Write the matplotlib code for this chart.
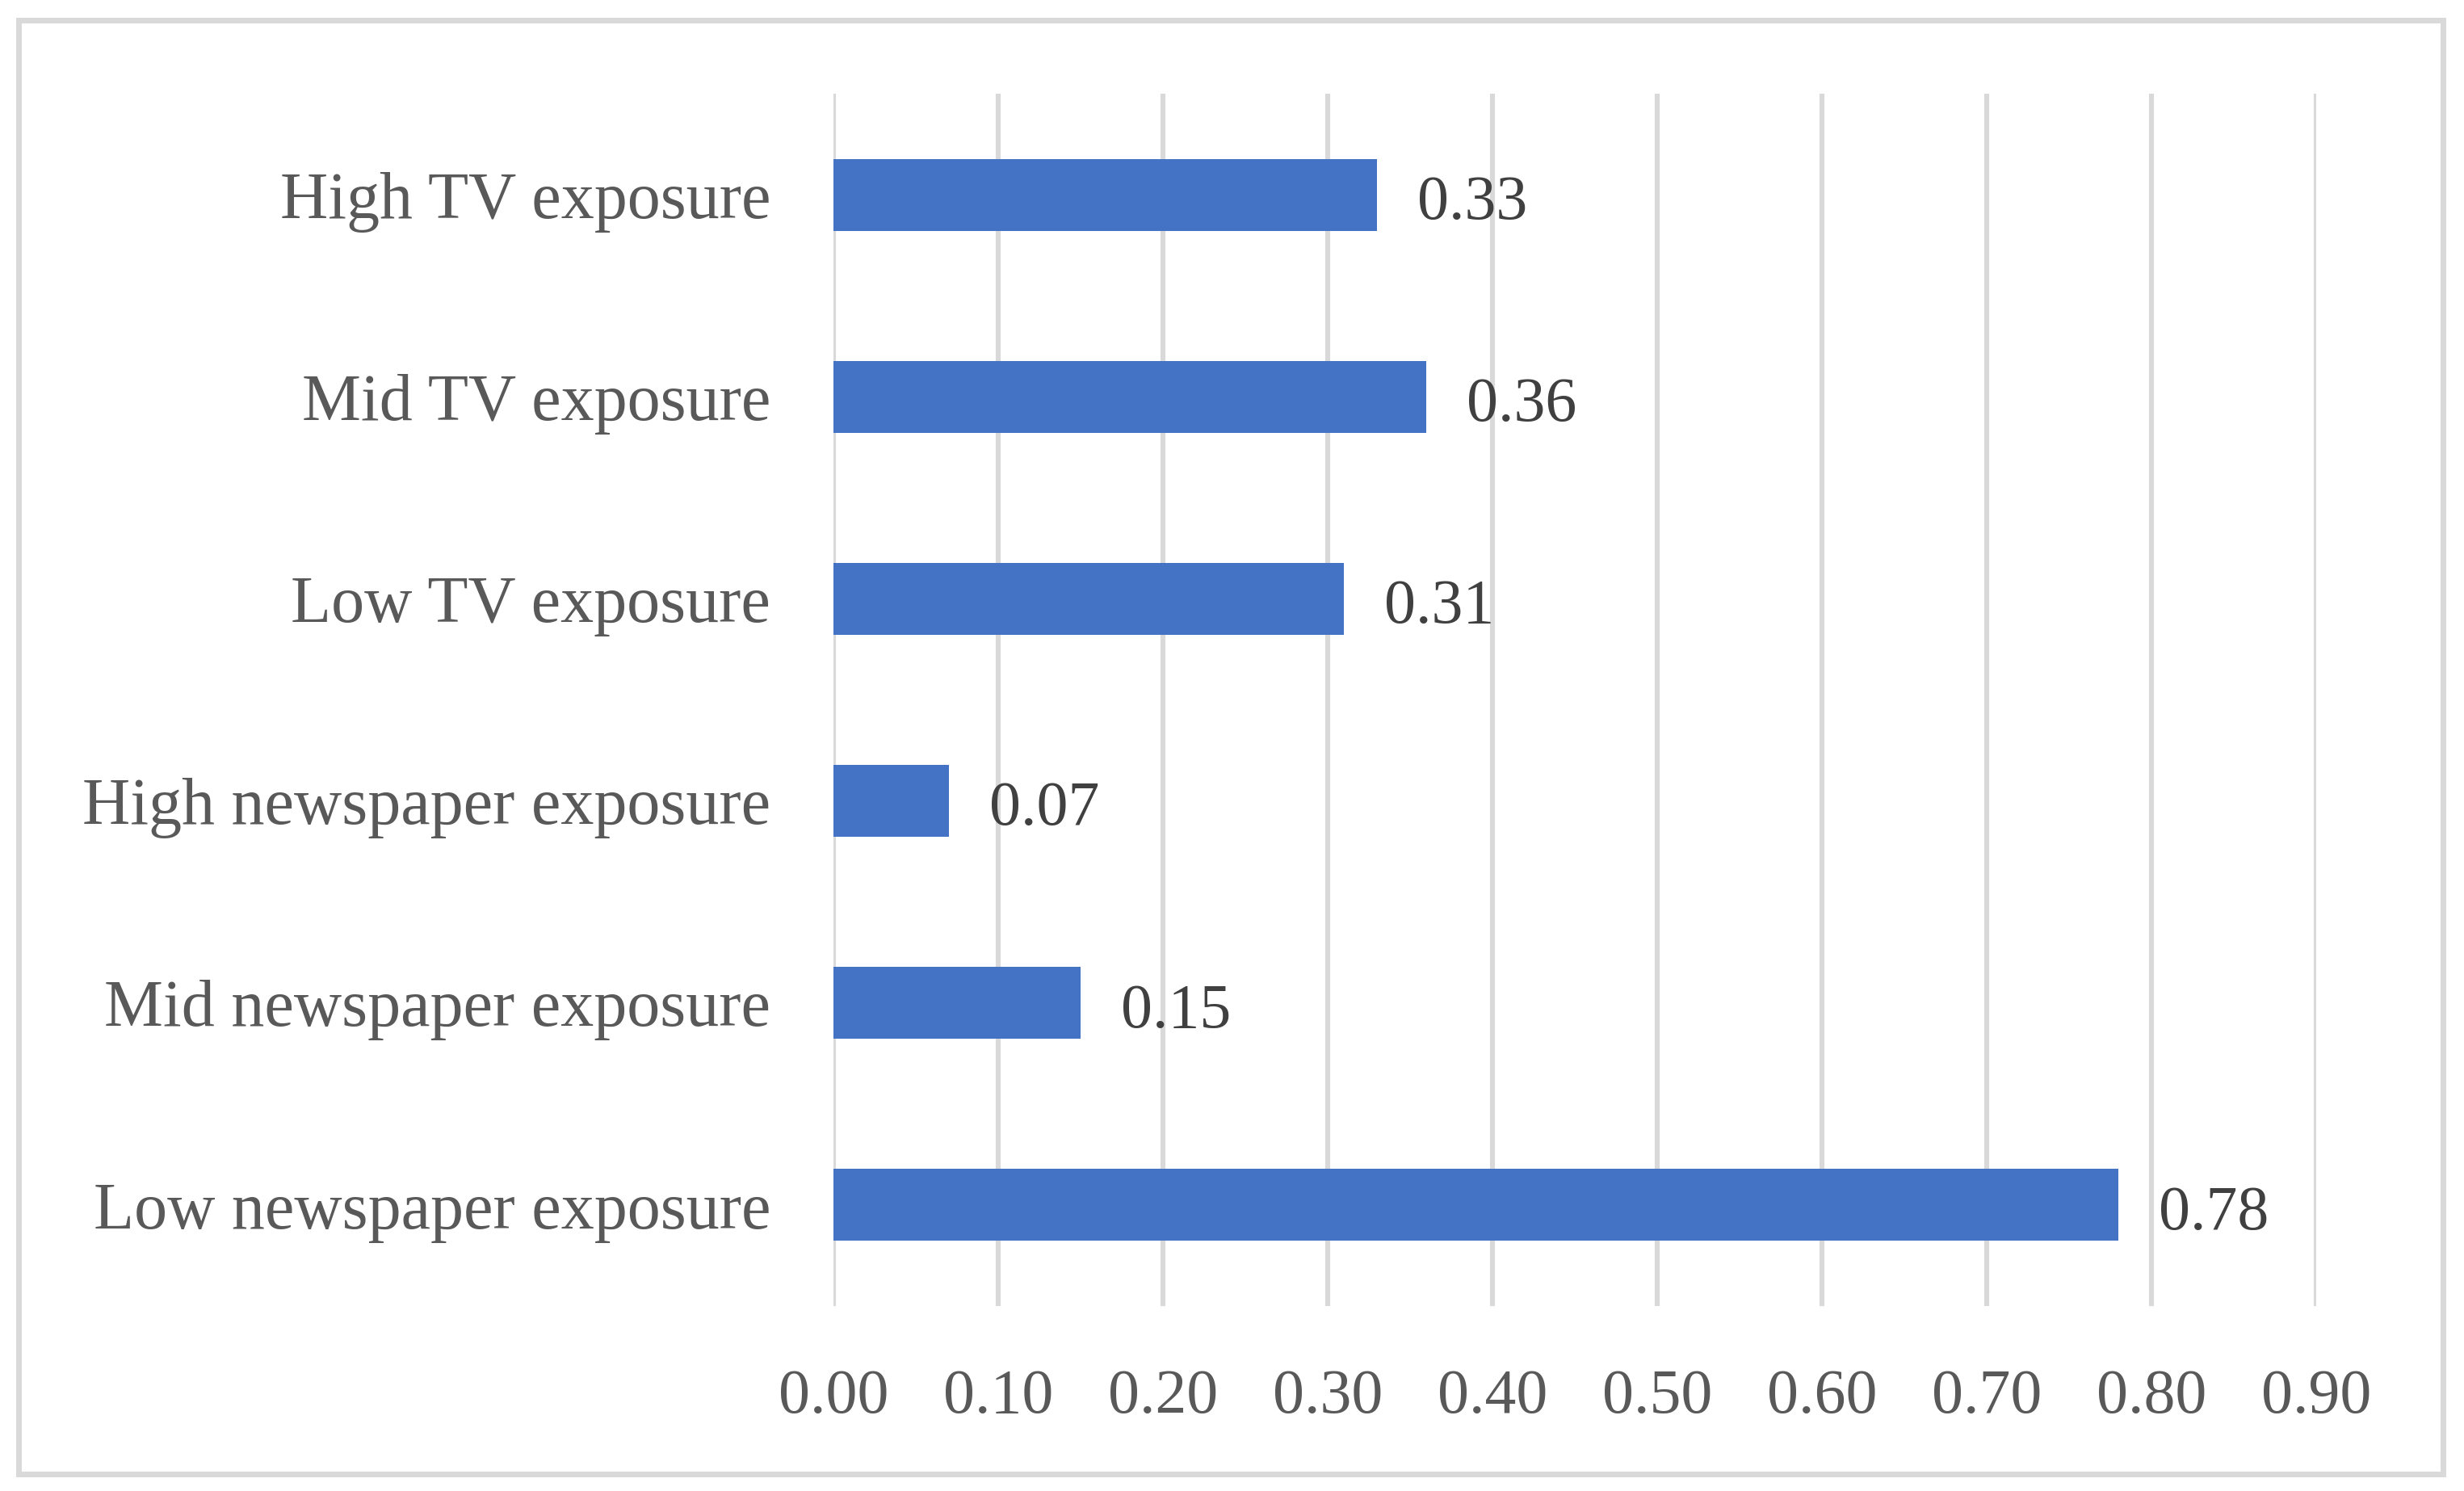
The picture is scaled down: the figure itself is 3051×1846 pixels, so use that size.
import matplotlib
matplotlib.use("Agg")
import matplotlib.pyplot as plt
from matplotlib.patches import Rectangle

categories = ["Low newspaper exposure", "Mid newspaper exposure", "High newspaper exposure",
              "Low TV exposure", "Mid TV exposure", "High TV exposure"]
values = [0.78, 0.15, 0.07, 0.31, 0.36, 0.33]
xticks = [0.0, 0.1, 0.2, 0.3, 0.4, 0.5, 0.6, 0.7, 0.8, 0.9]

W, H, DPI = 3051, 1846, 200
fig = plt.figure(figsize=(W / DPI, H / DPI), dpi=DPI)
fig.patch.set_facecolor("white")

font = ["Liberation Serif", "DejaVu Serif"]
fs = 28
fs_cat = 29.5

ax = fig.add_axes([1032 / W, 1 - 1617 / H, (2868 - 1032) / W, (1617 - 116) / H])
ypos = list(range(len(categories)))
ax.barh(ypos, values, height=0.356, color="#4472C4", zorder=3)
ax.set_xlim(0, 0.9)
ax.set_ylim(-0.5, len(categories) - 0.5)
ax.set_xticks(xticks)
ax.set_xticklabels([f"{v:.2f}" for v in xticks], fontsize=fs, family=font, color="#595959")
ax.set_yticks(ypos)
ax.set_yticklabels(categories, fontsize=fs_cat, family=font, color="#595959")
ax.tick_params(axis="both", length=0)
ax.tick_params(axis="x", pad=28)
ax.tick_params(axis="y", pad=28)
ax.grid(axis="x", color="#D9D9D9", linewidth=2.2, zorder=0)
ax.set_axisbelow(True)
for s in ax.spines.values():
    s.set_visible(False)

for y, v in zip(ypos, values):
    ax.annotate(f"{v:.2f}", xy=(v, y), xytext=(18, -4), textcoords="offset points",
                va="center", ha="left", fontsize=fs, family=font, color="#404040")

fig.patches.append(Rectangle((23 / W, 1 - 1825 / H), (3025 - 23) / W, (1825 - 25) / H,
                             transform=fig.transFigure, fill=False, edgecolor="#D9D9D9",
                             linewidth=2.5))

fig.savefig("out.png", dpi=DPI)
